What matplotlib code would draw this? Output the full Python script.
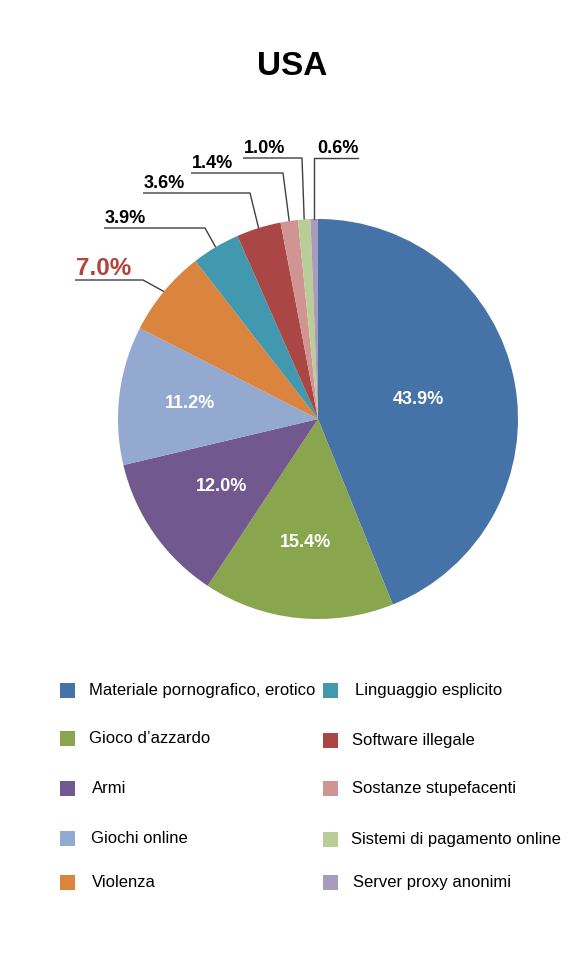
import numpy as np
import matplotlib
matplotlib.use("Agg")
import matplotlib.pyplot as plt
from matplotlib.patches import Rectangle

plt.rcParams["font.family"] = ["Liberation Sans", "DejaVu Sans"]

# ---------------------------------------------------------------------
# Data
# ---------------------------------------------------------------------
TITLE = "USA"
CATEGORIES = [
    "Materiale pornografico, erotico",
    "Gioco d\u2019azzardo",
    "Armi",
    "Giochi online",
    "Violenza",
    "Linguaggio esplicito",
    "Software illegale",
    "Sostanze stupefacenti",
    "Sistemi di pagamento online",
    "Server proxy anonimi",
]
VALUES = [43.9, 15.4, 12.0, 11.2, 7.0, 3.9, 3.6, 1.4, 1.0, 0.6]
COLORS = ["#4572A7", "#89A54E", "#71588F", "#93A9CF", "#DB843D",
          "#4198AF", "#AA4643", "#D09493", "#B9CD96", "#A99BBD"]

W, H = 584, 963
CX, CY, R = 318, 419, 200


def Y(y):
    """pixel row (from top) -> axes y"""
    return H - y


fig = plt.figure(figsize=(W / 100, H / 100), dpi=100)
ax = fig.add_axes([0, 0, 1, 1])

wedges, _ = ax.pie(VALUES, colors=COLORS, startangle=90, counterclock=False,
                   center=(CX, Y(CY)), radius=R,
                   wedgeprops=dict(linewidth=0))
ax.set_xlim(0, W)
ax.set_ylim(0, H)
ax.set_aspect("auto")
ax.axis("off")

ax.text(292, Y(66), TITLE, ha="center", va="center", fontsize=24,
        fontweight="bold", color="black")


def mid_point(w, frac):
    ang = np.deg2rad((w.theta1 + w.theta2) / 2)
    return CX + frac * R * np.cos(ang), Y(CY) + frac * R * np.sin(ang)


# inner labels (index, radial fraction)
for i, frac in [(0, 0.51), (1, 0.62), (2, 0.59), (3, 0.645)]:
    x, y = mid_point(wedges[i], frac)
    ax.text(x, y, f"{VALUES[i]:.1f}%", ha="center", va="center",
            fontsize=13, fontweight="bold", color="white")

# outer labels: index, line start x, elbow x, line y (pixels)
OUTER = [
    (4, 75, 143, 280),
    (5, 104, 205, 228),
    (6, 143, 250, 193),
    (7, 191, 283, 173),
    (8, 243, 302, 158),
]
LINE_C = "#404040"
for i, x0, xe, ly in OUTER:
    ax_, ay_ = mid_point(wedges[i], 1.0)
    ax.plot([x0, xe, ax_], [Y(ly), Y(ly), ay_], color=LINE_C, lw=1.0,
            solid_capstyle="butt")
    big = i == 4
    ax.text(x0 + 1, Y(ly - 5), f"{VALUES[i]:.1f}%", ha="left", va="baseline",
            fontsize=17.5 if big else 13, fontweight="bold",
            color="#B0453F" if big else "black")

# smallest slice: vertical leader then line to the right
ax_, ay_ = mid_point(wedges[9], 1.0)
ax.plot([ax_, ax_, 358], [ay_, Y(158), Y(158)], color=LINE_C, lw=1.0)
ax.text(317, Y(153), f"{VALUES[9]:.1f}%", ha="left", va="baseline",
        fontsize=13, fontweight="bold", color="black")

# legend
LEG_LEFT = [(60, 89, 690), (60, 89, 738), (60, 92, 788), (60, 91, 838), (60, 92, 882)]
LEG_RIGHT = [(323, 355, 690), (323, 352, 740), (323, 352, 788), (323, 351, 839), (323, 353, 882)]
for k, (sx, tx, cy) in enumerate(LEG_LEFT + LEG_RIGHT):
    ax.add_patch(Rectangle((sx, Y(cy) - 7.5), 15, 15, facecolor=COLORS[k],
                           edgecolor="none"))
    ax.text(tx, Y(cy), CATEGORIES[k], ha="left", va="center", fontsize=12,
            color="black")

fig.savefig("out.png", dpi=100)
